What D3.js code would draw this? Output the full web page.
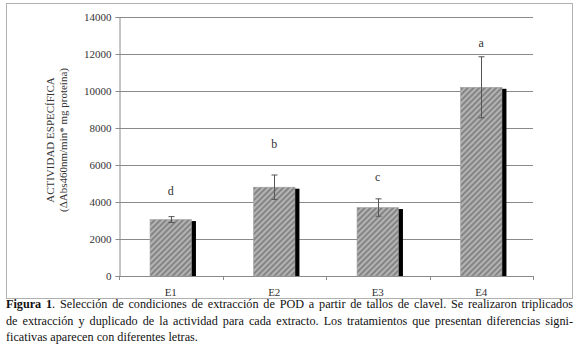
<!DOCTYPE html>
<html>
<head>
<meta charset="utf-8">
<script src="https://cdn.jsdelivr.net/npm/d3@7"></script>
<style>
  body { margin: 0; background: #fff; }
  svg { display: block; font-family: "Liberation Serif", "Times New Roman", serif; }
</style>
</head>
<body>
<div id="chart"></div>
<script>
// data
var categories = ["E1", "E2", "E3", "E4"];
var means = [3050, 4800, 3700, 10200];
var errors = [160, 660, 470, 1650];
var letters = ["d", "b", "c", "a"];
var letterLevels = [4600, 7130, 5350, 12610];
var yTicks = [0, 2000, 4000, 6000, 8000, 10000, 12000, 14000];
var yLabelLines = ["ACTIVIDAD ESPECÍFICA", "(ΔAbs460nm/min* mg proteína)"];
var captionLines = [
  ". Selección de condiciones de extracción de POD a partir de tallos de clavel. Se realizaron triplicados",
  "de extracción y duplicado de la actividad para cada extracto. Los tratamientos que presentan diferencias signi-",
  "ficativas aparecen con diferentes letras."
];

var width = 578, height = 350;
var plotLeft = 119, plotRight = 533, plotTop = 17, plotBottom = 276;

var svg = d3.select("#chart").append("svg")
    .attr("width", width)
    .attr("height", height);

var defs = svg.append("defs");
var pat = defs.append("pattern")
    .attr("id", "hatch")
    .attr("patternUnits", "userSpaceOnUse")
    .attr("width", 4)
    .attr("height", 4)
    .attr("patternTransform", "rotate(45)");
pat.append("rect").attr("width", 4).attr("height", 4).attr("fill", "#b3b3b3");
pat.append("rect").attr("width", 2).attr("height", 4).attr("fill", "#858585");

// outer frame
svg.append("rect")
    .attr("x", 6.5).attr("y", 3.5)
    .attr("width", 566).attr("height", 295)
    .attr("fill", "none")
    .attr("stroke", "#b0b0b0");

var x = d3.scaleBand().domain(categories).range([plotLeft, plotRight]).paddingInner(0).paddingOuter(0);
var y = d3.scaleLinear().domain([0, 14000]).range([plotBottom, plotTop]);

// gridlines
svg.append("g")
    .selectAll("line")
    .data(yTicks.filter(function(d) { return d > 0; }))
    .enter().append("line")
    .attr("x1", plotLeft).attr("x2", plotRight)
    .attr("y1", function(d) { return Math.round(y(d)) + 0.5; })
    .attr("y2", function(d) { return Math.round(y(d)) + 0.5; })
    .attr("stroke", "#8a8a8a")
    .attr("stroke-width", 1.2);

// y axis
var yAxis = svg.append("g")
    .attr("transform", "translate(" + (plotLeft + 0.5) + ",0)")
    .call(d3.axisLeft(y).tickValues(yTicks).tickSize(4).tickPadding(4).tickFormat(d3.format("d")));
yAxis.selectAll("path, line").attr("stroke", "#8a8a8a");
yAxis.selectAll("text")
    .attr("font-family", "Liberation Serif, serif")
    .attr("font-size", 11)
    .attr("fill", "#333");

// x axis line and tick marks at band edges
svg.append("line")
    .attr("x1", plotLeft).attr("x2", plotRight)
    .attr("y1", plotBottom + 0.5).attr("y2", plotBottom + 0.5)
    .attr("stroke", "#8a8a8a");
var edges = categories.map(function(c) { return x(c); }).concat([plotRight]);
svg.append("g").selectAll("line")
    .data(edges)
    .enter().append("line")
    .attr("x1", function(d) { return Math.round(d) + 0.5; })
    .attr("x2", function(d) { return Math.round(d) + 0.5; })
    .attr("y1", plotBottom).attr("y2", plotBottom + 4)
    .attr("stroke", "#8a8a8a");
svg.append("g").selectAll("text")
    .data(categories)
    .enter().append("text")
    .attr("x", function(d) { return x(d) + x.bandwidth() / 2; })
    .attr("y", 296)
    .attr("text-anchor", "middle")
    .attr("font-size", 11)
    .attr("fill", "#333")
    .text(function(d) { return d; });

// bars, with a black shadow offset to the right
var barW = x.bandwidth() * 0.4;
var bars = svg.append("g").selectAll("g")
    .data(categories)
    .enter().append("g");
bars.append("rect")
    .attr("x", function(d) { return x(d) + x.bandwidth() / 2 - barW / 2 + 4.5; })
    .attr("y", function(d, i) { return y(means[i]) + 1.5; })
    .attr("width", barW)
    .attr("height", function(d, i) { return plotBottom - y(means[i]) - 1.5; })
    .attr("fill", "#000");
bars.append("rect")
    .attr("x", function(d) { return x(d) + x.bandwidth() / 2 - barW / 2; })
    .attr("y", function(d, i) { return y(means[i]); })
    .attr("width", barW)
    .attr("height", function(d, i) { return plotBottom - y(means[i]); })
    .attr("fill", "url(#hatch)")
    .attr("stroke", "#a0a0a0")
    .attr("stroke-width", 0.6);

// error bars
var eb = svg.append("g").attr("stroke", "#555").attr("stroke-width", 1);
categories.forEach(function(c, i) {
    var cx = Math.round(x(c) + x.bandwidth() / 2) + 0.5;
    var y1 = y(means[i] + errors[i]), y2 = y(means[i] - errors[i]);
    eb.append("line").attr("x1", cx).attr("x2", cx).attr("y1", y1).attr("y2", y2);
    eb.append("line").attr("x1", cx - 3).attr("x2", cx + 3).attr("y1", y1).attr("y2", y1);
    eb.append("line").attr("x1", cx - 3).attr("x2", cx + 3).attr("y1", y2).attr("y2", y2);
});

// significance letters
svg.append("g").selectAll("text")
    .data(categories)
    .enter().append("text")
    .attr("x", function(d) { return x(d) + x.bandwidth() / 2; })
    .attr("y", function(d, i) { return y(letterLevels[i]); })
    .attr("dy", "0.32em")
    .attr("text-anchor", "middle")
    .attr("font-size", 12)
    .attr("fill", "#333")
    .text(function(d, i) { return letters[i]; });

// y axis title
var yl = svg.append("text")
    .attr("transform", "translate(54,140) rotate(-90)")
    .attr("text-anchor", "middle")
    .attr("font-size", 11)
    .attr("fill", "#333");
yl.selectAll("tspan")
    .data(yLabelLines)
    .enter().append("tspan")
    .attr("x", 0)
    .attr("dy", function(d, i) { return i === 0 ? 0 : 13; })
    .text(function(d) { return d; });

// caption, justified between the frame edges
var capX0 = 6, capX1 = 573;
var baselines = [308, 324.5, 341];
captionLines.forEach(function(line, i) {
    var t = svg.append("text")
        .attr("x", capX0)
        .attr("y", baselines[i])
        .attr("font-size", 12.2)
        .attr("fill", "#111");
    if (i === 0) {
        t.append("tspan").attr("font-weight", "bold").text("Figura 1");
    }
    t.append("tspan").text(line);
    if (i < captionLines.length - 1) {
        var w = t.node().getComputedTextLength();
        var full = (i === 0 ? "Figura 1" : "") + line;
        var gaps = full.split(" ").length - 1;
        t.attr("word-spacing", ((capX1 - capX0) - w) / gaps);
    }
});
</script>
</body>
</html>
